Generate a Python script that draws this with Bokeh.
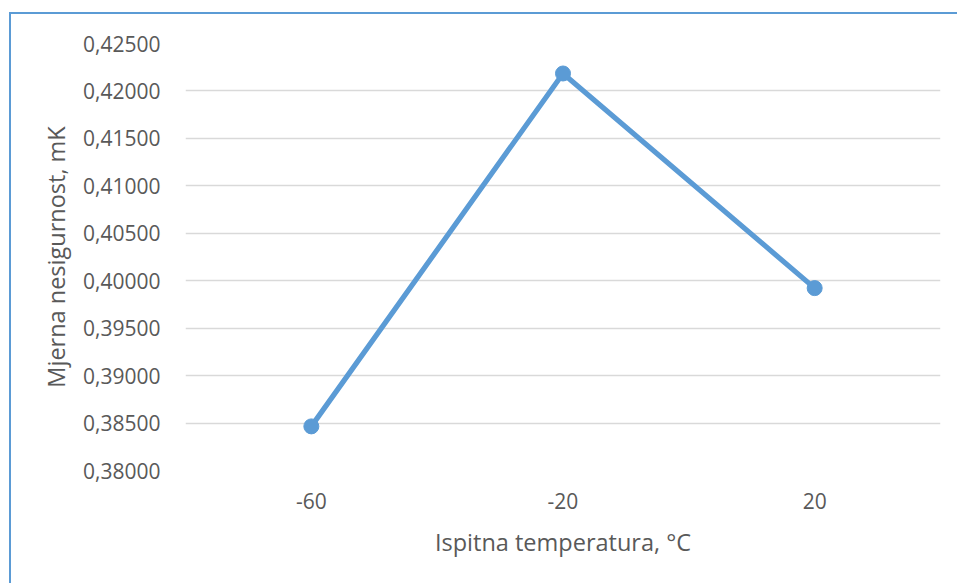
from bokeh.plotting import figure
from bokeh.models import FixedTicker, CustomJSTickFormatter, FactorRange, Spacer
from bokeh.layouts import column, row
from bokeh.embed import file_html
from bokeh.resources import INLINE

categories = ["-60", "-20", "20"]
values = [0.38465, 0.42184, 0.39922]
y_ticks = [0.380, 0.385, 0.390, 0.395, 0.400, 0.405, 0.410, 0.415, 0.420, 0.425]
x_title = "Ispitna temperatura, °C"
y_title = "Mjerna nesigurnost, mK"

FONT = "Open Sans"
TXT = "#595959"
BLUE = "#5b9bd5"

PW, PH = 946, 569

p = figure(
    x_range=FactorRange(*categories, range_padding=0),
    y_range=(0.380, 0.425),
    width=PW, height=PH,
    output_backend="svg", toolbar_location=None,
    min_border_left=174, min_border_right=17, min_border_top=29, min_border_bottom=113,
)
p.outline_line_color = None

p.line(categories, values, line_color=BLUE, line_width=5.2, line_join="round")
p.scatter(categories, values, size=15, fill_color=BLUE, line_color=BLUE)

p.yaxis.ticker = FixedTicker(ticks=y_ticks)
p.yaxis.formatter = CustomJSTickFormatter(code="return tick.toFixed(5).replace('.', ',');")
for ax in (p.xaxis, p.yaxis):
    ax.axis_line_color = None
    ax.major_tick_line_color = None
    ax.minor_tick_line_color = None
    ax.major_label_text_font = FONT
    ax.major_label_text_font_size = "21px"
    ax.major_label_text_color = TXT
    ax.axis_label_text_font = FONT
    ax.axis_label_text_font_size = "23.5px"
    ax.axis_label_text_color = TXT
    ax.axis_label_text_font_style = "normal"

p.xaxis.axis_label = x_title
p.yaxis.axis_label = y_title
p.yaxis.major_label_standoff = 19
p.yaxis.axis_label_standoff = 8
p.xaxis.major_label_standoff = 16
p.xaxis.axis_label_standoff = 14

p.xgrid.grid_line_color = None
p.ygrid.grid_line_color = "#d9d9d9"
p.ygrid.grid_line_width = 1.3

top_pad = Spacer(width=PW + 11, height=12)
top_line = row(Spacer(width=9, height=2),
               Spacer(width=PW + 2, height=2, styles={"background-color": BLUE}),
               spacing=0)
body = row(Spacer(width=9, height=PH),
           Spacer(width=2, height=PH, styles={"background-color": BLUE}),
           p, spacing=0)
layout = column(top_pad, top_line, body, spacing=0)

open("out.html", "w").write(file_html(layout, INLINE))
